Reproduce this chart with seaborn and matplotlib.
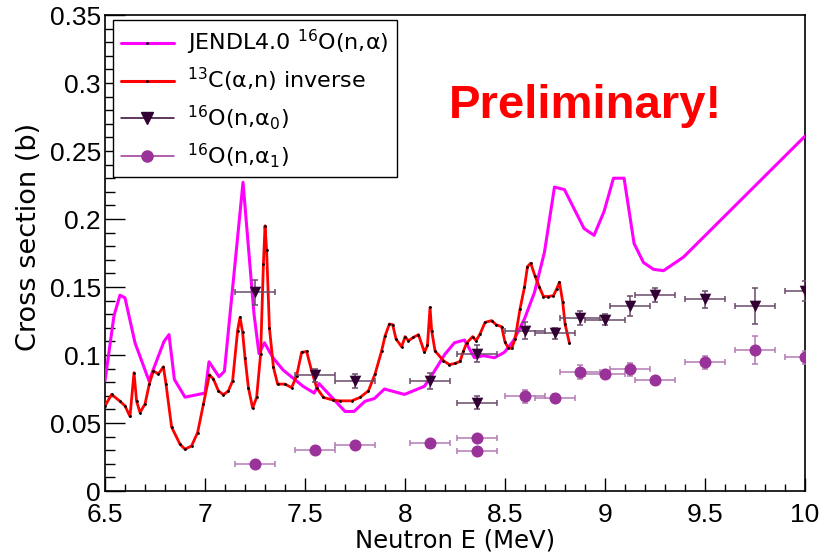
import matplotlib
matplotlib.use("Agg")
import matplotlib.pyplot as plt
from matplotlib.lines import Line2D
from matplotlib.ticker import MultipleLocator
import seaborn as sns
import pandas as pd

# ---- data ----
jendl_E = [6.50, 6.545, 6.575, 6.60, 6.65, 6.72, 6.795, 6.82, 6.847, 6.90, 7.00, 7.02,
           7.07, 7.097, 7.19, 7.245, 7.27, 7.297, 7.34, 7.39, 7.49, 7.546, 7.57, 7.70,
           7.745, 7.80, 7.847, 7.897, 7.997, 8.097, 8.142, 8.20, 8.247, 8.297, 8.347,
           8.392, 8.447, 8.497, 8.542, 8.597, 8.647, 8.697, 8.747, 8.797, 8.847, 8.895,
           8.945, 8.995, 9.042, 9.095, 9.145, 9.192, 9.242, 9.292, 9.392, 10.0]
jendl_xs = [0.081, 0.129, 0.144, 0.142, 0.109, 0.081, 0.110, 0.115, 0.082, 0.069, 0.072, 0.095,
            0.084, 0.088, 0.227, 0.130, 0.101, 0.109, 0.098, 0.089, 0.077, 0.072, 0.079, 0.0585,
            0.0585, 0.066, 0.068, 0.075, 0.071, 0.077, 0.087, 0.1007, 0.109, 0.111, 0.098,
            0.0995, 0.098, 0.102, 0.1105, 0.1265, 0.146, 0.1756, 0.2235, 0.2216, 0.207, 0.193,
            0.188, 0.2056, 0.230, 0.230, 0.182, 0.168, 0.163, 0.162, 0.172, 0.261]

inv_E = [6.50, 6.533, 6.575, 6.60, 6.625, 6.645, 6.658, 6.675, 6.70, 6.722, 6.742, 6.767,
         6.792, 6.805, 6.833, 6.875, 6.90, 6.933, 6.963, 6.992, 7.022, 7.042, 7.067, 7.092,
         7.117, 7.138, 7.163, 7.175, 7.188, 7.20, 7.217, 7.238, 7.258, 7.278, 7.292, 7.30,
         7.308, 7.322, 7.342, 7.363, 7.40, 7.433, 7.458, 7.483, 7.508, 7.533, 7.558, 7.592,
         7.642, 7.675, 7.733, 7.775, 7.817, 7.85, 7.883, 7.90, 7.922, 7.938, 7.955, 7.983,
         8.00, 8.017, 8.042, 8.067, 8.097, 8.112, 8.125, 8.133, 8.15, 8.192, 8.222, 8.25,
         8.275, 8.292, 8.308, 8.338, 8.355, 8.375, 8.40, 8.433, 8.455, 8.483, 8.50, 8.517,
         8.533, 8.55, 8.575, 8.597, 8.612, 8.628, 8.65, 8.672, 8.692, 8.717, 8.742, 8.758,
         8.772, 8.788, 8.80, 8.822]
inv_xs = [0.0626, 0.071, 0.066, 0.0626, 0.0548, 0.087, 0.066, 0.0577, 0.0639, 0.079, 0.0884, 0.086,
          0.0914, 0.0786, 0.047, 0.0344, 0.0307, 0.0332, 0.043, 0.0639, 0.0855, 0.0823, 0.0737, 0.0707,
          0.0737, 0.081, 0.118, 0.1277, 0.1167, 0.098, 0.076, 0.061, 0.0688, 0.1007, 0.167, 0.195,
          0.177, 0.120, 0.091, 0.0786, 0.0786, 0.076, 0.0847, 0.102, 0.1026, 0.0884, 0.076, 0.0688,
          0.0668, 0.0663, 0.0663, 0.0688, 0.0737, 0.086, 0.103, 0.114, 0.1228, 0.1223, 0.1118, 0.106,
          0.1135, 0.1105, 0.113, 0.115, 0.102, 0.107, 0.135, 0.118, 0.103, 0.0958, 0.0929, 0.0938,
          0.0953, 0.103, 0.1088, 0.1135, 0.1105, 0.1155, 0.124, 0.1253, 0.1223, 0.1208, 0.1093, 0.1051,
          0.1049, 0.1118, 0.134, 0.1498, 0.165, 0.1675, 0.158, 0.1498, 0.143, 0.143, 0.1437, 0.1486,
          0.1535, 0.1393, 0.1228, 0.1086]

a0_E = [7.25, 7.55, 7.75, 8.125, 8.36, 8.36, 8.60, 8.75, 8.875, 9.0, 9.125, 9.25, 9.5, 9.75, 10.0]
a0_xs = [0.146, 0.085, 0.081, 0.081, 0.065, 0.101, 0.118, 0.116, 0.127, 0.126, 0.136, 0.144, 0.141, 0.136, 0.147]
a0_err = [0.009, 0.005, 0.005, 0.006, 0.0045, 0.006, 0.006, 0.004, 0.005, 0.004, 0.0075, 0.0053, 0.0063, 0.013, 0.0074]

a1_E = [7.25, 7.55, 7.75, 8.125, 8.36, 8.36, 8.60, 8.75, 8.875, 9.0, 9.125, 9.25, 9.5, 9.75, 10.0]
a1_xs = [0.020, 0.030, 0.034, 0.0356, 0.0388, 0.0295, 0.0695, 0.0683, 0.0877, 0.086, 0.0894, 0.0816, 0.0946, 0.1039, 0.0982]
a1_err = [0.002, 0.002, 0.002, 0.002, 0.002, 0.002, 0.0045, 0.003, 0.005, 0.003, 0.0045, 0.002, 0.0047, 0.0104, 0.005]

bin_half = [0.1] * len(a0_E)

x_ticks = [6.5, 7, 7.5, 8, 8.5, 9, 9.5, 10]
x_ticklabels = ["6.5", "7", "7.5", "8", "8.5", "9", "9.5", "10"]
y_ticks = [0, 0.05, 0.1, 0.15, 0.2, 0.25, 0.3, 0.35]
y_ticklabels = ["0", "0.05", "0.1", "0.15", "0.2", "0.25", "0.3", "0.35"]

labels = ["JENDL4.0 $^{16}$O(n,α)", "$^{13}$C(α,n) inverse",
          "$^{16}$O(n,α$_{0}$)", "$^{16}$O(n,α$_{1}$)"]

# ---- style ----
sns.set_theme(style="white")
plt.rcParams["font.family"] = ["Liberation Sans", "DejaVu Sans"]
plt.rcParams["mathtext.fontset"] = "custom"
plt.rcParams["mathtext.rm"] = "DejaVu Sans"
plt.rcParams["mathtext.it"] = "DejaVu Sans:italic"
plt.rcParams["text.color"] = "black"
plt.rcParams["axes.labelcolor"] = "black"

WIDE = ["DejaVu Sans"]

C_MAG = "#ff00ff"
C_RED = "#ff0000"
C_A0 = "#330033"
C_A0E = "#6a4a6a"
C_A1 = "#993399"
C_A1E = "#b47ab4"

fig = plt.figure(figsize=(8.3, 5.52), dpi=100)
ax = fig.add_axes([0.1265, 0.1105, 0.8435, 0.8623])

df_j = pd.DataFrame({"E": jendl_E, "xs": jendl_xs})
df_r = pd.DataFrame({"E": inv_E, "xs": inv_xs})

sns.lineplot(data=df_j, x="E", y="xs", ax=ax, color=C_MAG, lw=2.2,
             sort=False, estimator=None, zorder=3)
sns.lineplot(data=df_r, x="E", y="xs", ax=ax, color=C_RED, lw=2.0,
             sort=False, estimator=None, zorder=4)
ax.plot(inv_E, inv_xs, ls="none", marker="o", ms=1.0, color="black", zorder=5)

ax.errorbar(a0_E, a0_xs, xerr=bin_half, yerr=a0_err, fmt="none", ecolor=C_A0E,
            elinewidth=1.1, capsize=2.5, capthick=1.1, zorder=6)
ax.errorbar(a1_E, a1_xs, xerr=bin_half, yerr=a1_err, fmt="none", ecolor=C_A1E,
            elinewidth=1.1, capsize=2.5, capthick=1.1, zorder=6)
sns.scatterplot(x=a0_E, y=a0_xs, ax=ax, marker="v", s=70, color=C_A0,
                edgecolor=C_A0, linewidth=0, zorder=7)
sns.scatterplot(x=a1_E, y=a1_xs, ax=ax, marker="o", s=75, color=C_A1,
                edgecolor=C_A1, linewidth=0, zorder=7)

ax.set_xlim(6.5, 10)
ax.set_ylim(0, 0.35)
ax.set_xticks(x_ticks)
ax.set_xticklabels(x_ticklabels)
ax.set_yticks(y_ticks)
ax.set_yticklabels(y_ticklabels)
ax.xaxis.set_minor_locator(MultipleLocator(0.1))
ax.yaxis.set_minor_locator(MultipleLocator(0.01))
ax.tick_params(axis="both", which="both", direction="in", colors="black",
               labelsize=19, top=False, right=False, bottom=True, left=True)
ax.tick_params(axis="x", which="major", length=9.7, width=1.0, pad=8.5)
ax.tick_params(axis="x", which="minor", length=5.0, width=1.0)
ax.tick_params(axis="y", which="major", length=14.4, width=1.0, pad=3)
ax.tick_params(axis="y", which="minor", length=7.2, width=1.0)
for s in ax.spines.values():
    s.set_visible(True)
    s.set_color("black")
    s.set_linewidth(1.2)

ax.set_xlabel("Neutron E (MeV)", fontsize=17.5, family=WIDE, color="black")
ax.set_ylabel("Cross section (b)", fontsize=19.5, family=WIDE, color="black")
ax.yaxis.set_label_coords(-0.09, 0.533)
ax.xaxis.set_label_coords(0.5, -0.079)

ax.text(8.9, 0.283, "Preliminary!", color="#ff0000", fontsize=34,
        fontweight="bold", ha="center", va="center", zorder=8)

handles = [
    Line2D([0], [0], color=C_MAG, lw=2.2, marker="o", ms=1.0, mfc="black", mec="black"),
    Line2D([0], [0], color=C_RED, lw=2.2, marker="o", ms=1.0, mfc="black", mec="black"),
    Line2D([0], [0], color=C_A0, lw=1.1, marker="v", ms=8),
    Line2D([0], [0], color=C_A1, lw=1.1, marker="o", ms=8),
]
leg = ax.legend(handles, labels, loc="upper left", bbox_to_anchor=(0.0114, 0.989),
                borderaxespad=0, prop={"family": WIDE, "size": 16}, frameon=True,
                fancybox=False, edgecolor="black", framealpha=1, handlelength=2.4,
                handletextpad=0.6, borderpad=0.35, labelspacing=0.4, numpoints=1)
leg.get_frame().set_linewidth(1.0)
for t in leg.get_texts():
    t.set_color("black")

fig.savefig("out.png", dpi=100)
